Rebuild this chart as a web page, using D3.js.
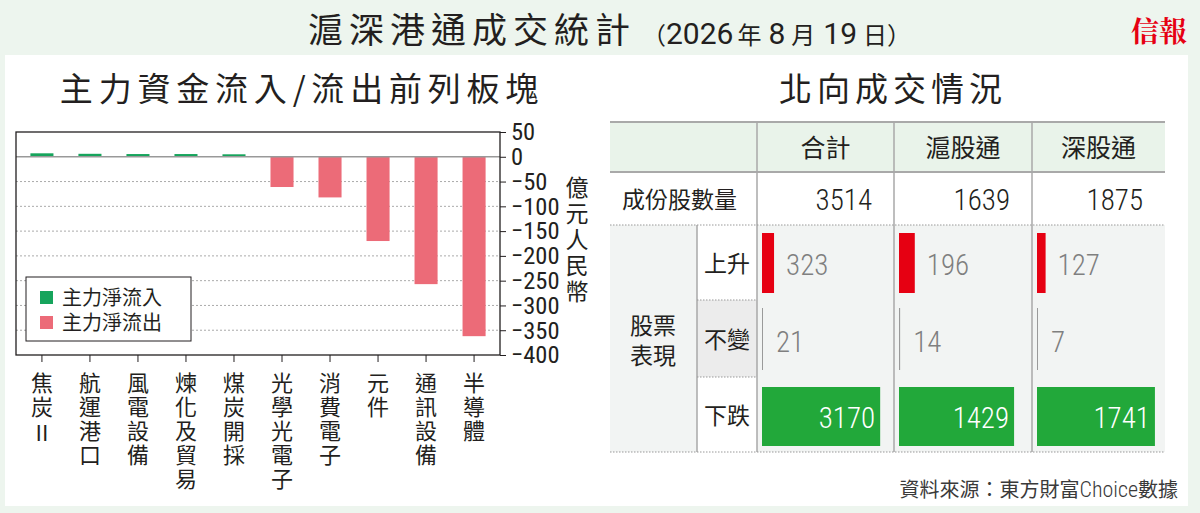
<!DOCTYPE html>
<html>
<head>
<meta charset="utf-8">
<script src="https://cdn.jsdelivr.net/npm/d3@7"></script>
<style>
  body { margin: 0; background: #edf5ee; }
  svg { display: block; }
  text { font-family: "Noto Sans CJK TC", "Noto Sans", sans-serif; fill: #231f20; }
  .num { font-family: "Roboto Condensed", "Liberation Sans Narrow", "DejaVu Sans Condensed", "Roboto", sans-serif;
         font-stretch: condensed; font-weight: 300; }
  .numw { font-family: "Roboto", sans-serif; font-weight: 400; }
  .vert { writing-mode: vertical-rl; text-orientation: upright; }
</style>
</head>
<body>
<svg id="chart" width="1200" height="513"></svg>
<script>
// left chart data
const categories = ["焦炭II", "航運港口", "風電設備", "煉化及貿易", "煤炭開採", "光學光電子", "消費電子", "元件", "通訊設備", "半導體"];
const flows = [7, 6, 5.5, 5.5, 5, -61, -82, -170, -257, -362];
const yTicks = [50, 0, -50, -100, -150, -200, -250, -300, -350, -400];
const legendLabels = ["主力淨流入", "主力淨流出"];

// right table data
const tableCols = ["合計", "滬股通", "深股通"];
const constituents = [3514, 1639, 1875];
const upCounts = [323, 196, 127];
const flatCounts = [21, 14, 7];
const downCounts = [3170, 1429, 1741];

const GREEN = "#16a45c", PINK = "#ec6b78";

const svg = d3.select("#chart");

// background + white panel
svg.append("rect").attr("width", 1200).attr("height", 513).attr("fill", "#edf5ee");
svg.append("rect").attr("x", 5).attr("y", 55).attr("width", 1183).attr("height", 451).attr("fill", "#fff");

// header
svg.append("text").attr("x", 308).attr("y", 43)
    .attr("font-size", 35).attr("letter-spacing", 6)
    .text("滬深港通成交統計");
const dateT = svg.append("text").attr("x", 642).attr("y", 44).attr("font-size", 24);
dateT.append("tspan").text("（");
dateT.append("tspan").attr("class", "numw").attr("font-size", 30).text("2026");
dateT.append("tspan").attr("dx", 4).text("年");
dateT.append("tspan").attr("class", "numw").attr("font-size", 30).attr("dx", 7).text("8");
dateT.append("tspan").attr("dx", 6).text("月");
dateT.append("tspan").attr("class", "numw").attr("font-size", 30).attr("dx", 8).text("19");
dateT.append("tspan").attr("dx", 6).text("日）");
svg.append("text").attr("x", 1187).attr("y", 42).attr("text-anchor", "end")
    .attr("font-size", 28).attr("font-weight", "bold")
    .style("font-family", "'Noto Serif CJK TC', 'Noto Sans CJK TC', serif")
    .style("fill", "#e60012")
    .text("信報");

// ---------- left chart ----------
svg.append("text").attr("x", 302).attr("y", 101).attr("text-anchor", "middle")
    .attr("font-size", 33).attr("letter-spacing", 5.8)
    .text("主力資金流入/流出前列板塊");

const plot = {left: 16, right: 500, top: 132, bottom: 355};
const x = d3.scaleBand().domain(categories).range([plot.left, plot.right])
    .paddingInner(0.52).paddingOuter(0.3);
const y = d3.scaleLinear().domain([-400, 50]).range([plot.bottom, plot.top]);

svg.append("g").selectAll("line")
    .data(yTicks.filter(d => d !== 0 && d !== 50 && d !== -400))
    .enter().append("line")
    .attr("x1", plot.left).attr("x2", plot.right)
    .attr("y1", d => y(d)).attr("y2", d => y(d))
    .attr("stroke", "#aaa").attr("stroke-width", 1)
    .attr("stroke-dasharray", "2,2");

// bars
svg.append("g").selectAll("rect")
    .data(flows)
    .enter().append("rect")
    .attr("x", (d, i) => x(categories[i]))
    .attr("width", x.bandwidth())
    .attr("y", d => y(Math.max(0, d)))
    .attr("height", d => Math.abs(y(d) - y(0)))
    .attr("fill", d => d >= 0 ? GREEN : PINK);

// zero line
svg.append("line").attr("x1", plot.left).attr("x2", plot.right)
    .attr("y1", y(0)).attr("y2", y(0)).attr("stroke", "#999").attr("stroke-width", 1.5);

// frame
svg.append("rect").attr("x", plot.left).attr("y", plot.top)
    .attr("width", plot.right - plot.left).attr("height", plot.bottom - plot.top)
    .attr("fill", "none").attr("stroke", "#231f20").attr("stroke-width", 1.3);

// right axis
const yAxis = svg.append("g")
    .attr("transform", `translate(${plot.right},0)`)
    .call(d3.axisRight(y).tickValues(yTicks).tickSize(6).tickPadding(5).tickFormat(d3.format("d")));
yAxis.select(".domain").remove();
yAxis.selectAll("line").attr("stroke", "#231f20");
yAxis.selectAll("text").attr("class", "num").attr("font-size", 24.5)
    .style("font-weight", 400).style("fill", "#231f20");

// bottom ticks
const xAxis = svg.append("g")
    .attr("transform", `translate(0,${plot.bottom})`)
    .call(d3.axisBottom(x).tickSize(7).tickFormat(""));
xAxis.select(".domain").remove();
xAxis.selectAll("line").attr("stroke", "#231f20");

// vertical category labels
const catG = svg.append("g");
catG.selectAll("text.cat")
    .data(categories)
    .enter().append("text")
    .attr("class", "vert cat")
    .attr("x", d => x(d) + x.bandwidth() / 2)
    .attr("y", 372)
    .attr("font-size", 22)
    .attr("letter-spacing", 2)
    .text(d => d.replace("II", ""));
// the Roman "II" of 焦炭II sits upright under the two characters
catG.append("text")
    .attr("x", x(categories[0]) + x.bandwidth() / 2)
    .attr("y", 441)
    .attr("text-anchor", "middle")
    .attr("font-size", 22)
    .text("II");

// unit label
svg.append("text").attr("class", "vert")
    .attr("x", 577).attr("y", 176)
    .attr("font-size", 23).attr("letter-spacing", 3)
    .text("億元人民幣");

// legend
const lg = svg.append("g");
lg.append("rect").attr("x", 26).attr("y", 277).attr("width", 165).attr("height", 64)
    .attr("fill", "#fff").attr("stroke", "#231f20").attr("stroke-width", 1);
lg.selectAll("g.item")
    .data(legendLabels)
    .enter().append("g").attr("class", "item")
    .each(function (d, i) {
        const g = d3.select(this);
        g.append("rect").attr("x", 40).attr("y", 291 + i * 25).attr("width", 13).attr("height", 13)
            .attr("fill", i === 0 ? GREEN : PINK);
        g.append("text").attr("x", 62).attr("y", 305 + i * 25).attr("font-size", 20).text(d);
    });

// ---------- right table ----------
svg.append("text").attr("x", 893).attr("y", 101).attr("text-anchor", "middle")
    .attr("font-size", 33).attr("letter-spacing", 5)
    .text("北向成交情況");

const colX = [610, 697, 757, 894, 1032, 1165];
const rowY = [122, 172, 225, 300, 377, 452];
const tbl = svg.append("g");

// backgrounds
tbl.append("rect").attr("x", colX[0]).attr("y", rowY[0]).attr("width", colX[5] - colX[0])
    .attr("height", rowY[1] - rowY[0]).attr("fill", "#e9f3ea");
tbl.append("rect").attr("x", colX[0]).attr("y", rowY[2]).attr("width", colX[5] - colX[0])
    .attr("height", rowY[5] - rowY[2]).attr("fill", "#f2f4f3");
tbl.append("rect").attr("x", colX[1]).attr("y", rowY[2]).attr("width", colX[2] - colX[1])
    .attr("height", rowY[3] - rowY[2]).attr("fill", "#fff");
tbl.append("rect").attr("x", colX[1]).attr("y", rowY[3]).attr("width", colX[2] - colX[1])
    .attr("height", rowY[4] - rowY[3]).attr("fill", "#ececec");
tbl.append("rect").attr("x", colX[1]).attr("y", rowY[4]).attr("width", colX[2] - colX[1])
    .attr("height", rowY[5] - rowY[4]).attr("fill", "#fff");

// lines
const solid = (x1, y1, x2, y2, w) => tbl.append("line").attr("x1", x1).attr("y1", y1).attr("x2", x2).attr("y2", y2)
    .attr("stroke", "#a9a9a9").attr("stroke-width", w);
const dotted = (x1, y1, x2, y2) => tbl.append("line").attr("x1", x1).attr("y1", y1).attr("x2", x2).attr("y2", y2)
    .attr("stroke", "#999").attr("stroke-width", 1).attr("stroke-dasharray", "1.5,1.5");
solid(colX[0], rowY[0], colX[5], rowY[0], 2);
solid(colX[0], rowY[1], colX[5], rowY[1], 2);
[2, 3, 4].forEach(i => solid(colX[i], rowY[0], colX[i], rowY[5], 1.5));
solid(colX[1], rowY[2], colX[1], rowY[5], 1.5);
dotted(colX[0], rowY[2], colX[5], rowY[2]);
dotted(colX[1], rowY[3], colX[2], rowY[3]);
dotted(colX[1], rowY[4], colX[2], rowY[4]);
dotted(colX[0], rowY[5], colX[5], rowY[5]);

// header text
tableCols.forEach((c, i) => {
    tbl.append("text").attr("x", (colX[i + 2] + colX[i + 3]) / 2).attr("y", 157)
        .attr("text-anchor", "middle").attr("font-size", 25).text(c);
});
tbl.append("text").attr("x", 622).attr("y", 208).attr("font-size", 23).text("成份股數量");
constituents.forEach((v, i) => {
    tbl.append("text").attr("class", "num").attr("x", colX[i + 3] - 22).attr("y", 210)
        .attr("text-anchor", "end").attr("font-size", 29).text(v);
});
tbl.append("text").attr("x", 653).attr("y", 334).attr("text-anchor", "middle").attr("font-size", 23).text("股票");
tbl.append("text").attr("x", 653).attr("y", 364).attr("text-anchor", "middle").attr("font-size", 23).text("表現");
["上升", "不變", "下跌"].forEach((t, i) => {
    tbl.append("text").attr("x", (colX[1] + colX[2]) / 2).attr("y", (rowY[i + 2] + rowY[i + 3]) / 2 + 9)
        .attr("text-anchor", "middle").attr("font-size", 23).text(t);
});

// bars inside cells, scaled to each column's constituent total
tableCols.forEach((c, i) => {
    const x0 = colX[i + 2] + 5;
    const w = d3.scaleLinear().domain([0, constituents[i]]).range([0, colX[i + 3] - colX[i + 2] - 6]);
    // up
    tbl.append("rect").attr("x", x0).attr("y", 233).attr("width", w(upCounts[i])).attr("height", 60)
        .attr("fill", "#e60012");
    tbl.append("text").attr("class", "num").attr("x", x0 + w(upCounts[i]) + 12).attr("y", 275)
        .attr("font-size", 29).style("fill", "#7f7f7f").text(upCounts[i]);
    // flat
    tbl.append("rect").attr("x", x0).attr("y", 308).attr("width", Math.max(1, w(flatCounts[i]))).attr("height", 62)
        .attr("fill", "#9a9a9a");
    tbl.append("text").attr("class", "num").attr("x", x0 + Math.max(1, w(flatCounts[i])) + 13).attr("y", 352)
        .attr("font-size", 29).style("fill", "#7f7f7f").text(flatCounts[i]);
    // down
    tbl.append("rect").attr("x", x0).attr("y", 387).attr("width", w(downCounts[i])).attr("height", 59)
        .attr("fill", "#22a83a");
    tbl.append("text").attr("class", "num").attr("x", x0 + w(downCounts[i]) - 5).attr("y", 428)
        .attr("text-anchor", "end").attr("font-size", 29).style("fill", "#fff").text(downCounts[i]);
});

// source
const src = svg.append("text").attr("x", 1178).attr("y", 497).attr("text-anchor", "end")
    .attr("font-size", 20).style("fill", "#3a3a3a");
src.append("tspan").text("資料來源：東方財富");
src.append("tspan").attr("class", "num").attr("font-size", 22).text("Choice");
src.append("tspan").text("數據");
</script>
</body>
</html>
